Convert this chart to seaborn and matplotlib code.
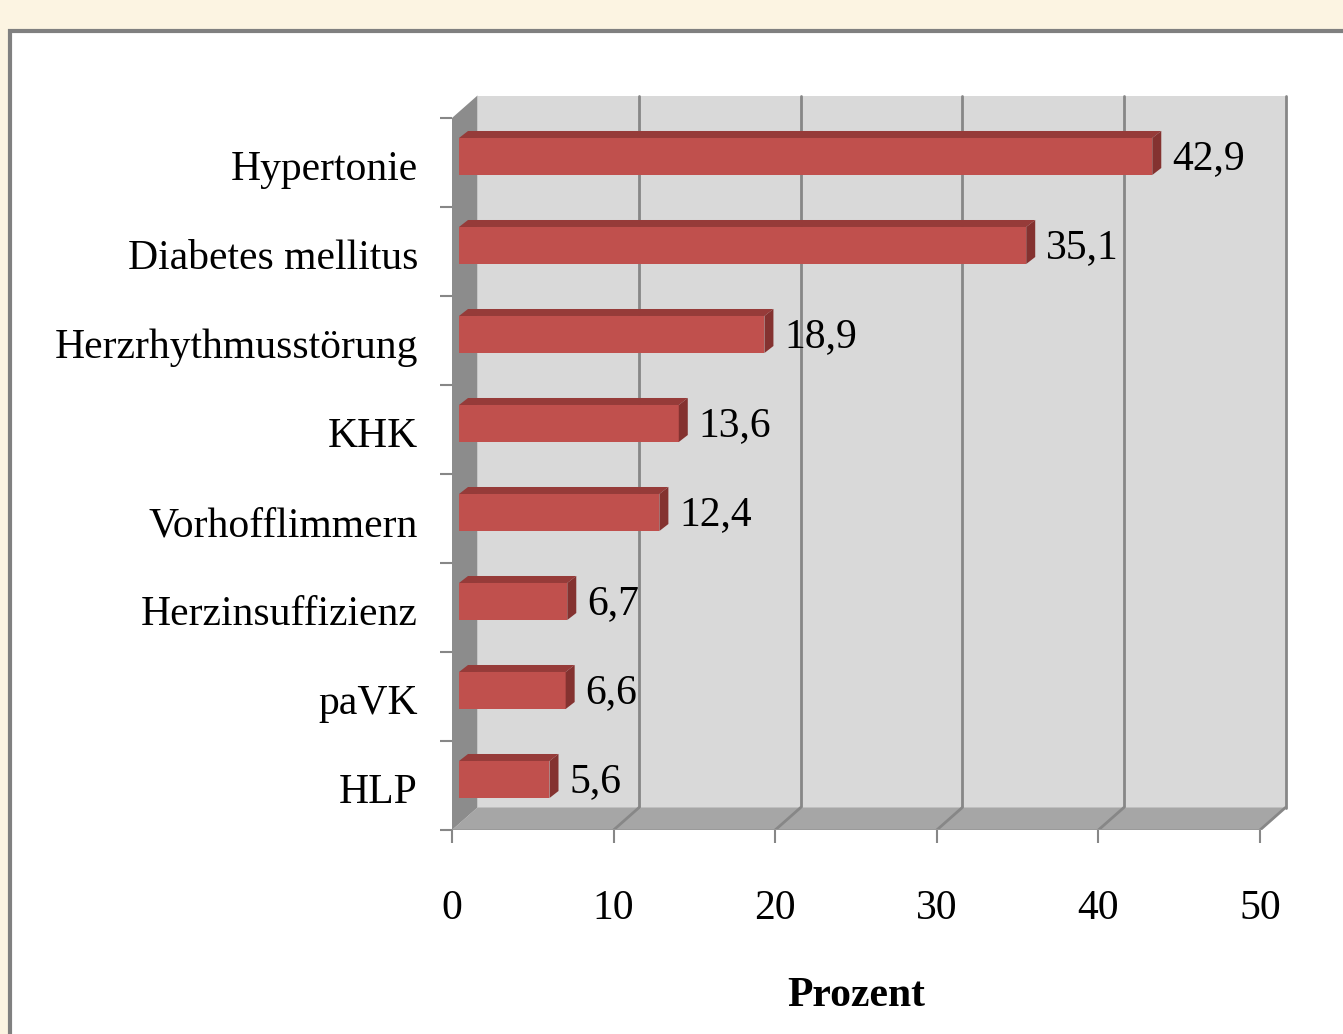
import matplotlib
matplotlib.use("Agg")
import matplotlib.pyplot as plt
import matplotlib.transforms as mtransforms
from matplotlib.patches import Polygon, Rectangle
import pandas as pd
import seaborn as sns

# data
categories = ["Hypertonie", "Diabetes mellitus", "Herzrhythmusstörung", "KHK",
              "Vorhofflimmern", "Herzinsuffizienz", "paVK", "HLP"]
values = [42.9, 35.1, 18.9, 13.6, 12.4, 6.7, 6.6, 5.6]
value_labels = ["42,9", "35,1", "18,9", "13,6", "12,4", "6,7", "6,6", "5,6"]
x_ticks = [0, 10, 20, 30, 40, 50]

df = pd.DataFrame({"Krankheit": categories, "Prozent": values})

sns.set_style("white")
plt.rcParams["font.family"] = ["Liberation Serif", "DejaVu Serif"]
plt.rcParams["text.color"] = "black"
plt.rcParams["axes.labelcolor"] = "black"

W, H = 1343, 1034
fig = plt.figure(figsize=(W / 100, H / 100), dpi=100)
fig.patch.set_facecolor("#fcf4e2")

# white panel with grey frame
fig.add_artist(Rectangle((10 / W, -0.1), 1.2, 1.1 - 31 / H, transform=fig.transFigure,
                         facecolor="white", edgecolor="#808080", lw=3, zorder=-10))

# pixel geometry of the plot box
x_px = 16.16           # pixels per percent
y_px = 89.0            # pixels per category band
x_max = 52.0
y_top = -0.85
ax = fig.add_axes([452 / W, (H - 830) / H, x_max * x_px / W, (7.5 - y_top) * y_px / H])
ax.set_facecolor("none")

DX = 25.5 / x_px       # depth of the walls
DY = 22.5 / y_px
wall_col = "#d9d9d9"
grid_col = "#878787"

# back wall, floor, side wall
ax.add_patch(Rectangle((DX, -0.5 - DY), 50, 8, facecolor=wall_col, edgecolor="none", zorder=0))
for t in x_ticks[1:]:
    ax.plot([t + DX, t + DX], [-0.5 - DY, 7.5 - DY], color=grid_col, lw=2, zorder=1)
ax.add_patch(Polygon([(0, 7.5), (50, 7.5), (50 + DX, 7.5 - DY), (DX, 7.5 - DY)],
                     closed=True, facecolor="#a6a6a6", edgecolor="none", zorder=1))
for t in x_ticks[1:]:
    ax.plot([t, t + DX], [7.5, 7.5 - DY], color=grid_col, lw=2, zorder=1.5)
ax.plot([0, 50], [7.5, 7.5], color="#999999", lw=2, zorder=1.5)
ax.add_patch(Polygon([(0, -0.5), (DX, -0.5 - DY), (DX, 7.5 - DY), (0, 7.5)],
                     closed=True, facecolor="#8c8c8c", edgecolor="none", zorder=1.6))

# bars (front faces) via seaborn
sns.barplot(data=df, x="Prozent", y="Krankheit", orient="h", color="#c0504d",
            saturation=1, width=0.416, ax=ax, zorder=3)

shift = mtransforms.offset_copy(ax.transData, fig=fig, x=7, y=6, units="dots")
bdx = 9 / x_px
bdy = 7 / y_px
bars = list(ax.patches)[-len(values):]
for bar, lab in zip(bars, value_labels):
    x0, y0 = bar.get_x(), bar.get_y()
    w, h = bar.get_width(), bar.get_height()
    bar.set_transform(shift)
    bar.set_edgecolor("none")
    ax.add_patch(Polygon([(x0, y0), (x0 + w, y0), (x0 + w + bdx, y0 - bdy), (x0 + bdx, y0 - bdy)],
                         closed=True, facecolor="#963b39", edgecolor="none",
                         transform=shift, zorder=3))
    ax.add_patch(Polygon([(x0 + w, y0), (x0 + w + bdx, y0 - bdy), (x0 + w + bdx, y0 + h - bdy), (x0 + w, y0 + h)],
                         closed=True, facecolor="#843230", edgecolor="none",
                         transform=shift, zorder=3))
    ax.text(x0 + w + bdx + 11 / x_px, y0 + h / 2 + 2.5 / y_px, lab, transform=shift,
            ha="left", va="center", fontsize=30, color="black", zorder=4)

ax.set_xlim(0, x_max)
ax.set_ylim(7.5, y_top)
for s in ax.spines.values():
    s.set_visible(False)

ax.set_xticks(x_ticks)
ax.set_xticklabels([str(t) for t in x_ticks], fontsize=30)
ax.tick_params(axis="x", length=9.4, width=1.5, color=grid_col, labelcolor="black", pad=33.5, bottom=True)
ax.set_yticks([i - 0.5 for i in range(len(categories) + 1)], minor=True)
ax.tick_params(axis="y", which="minor", length=8.6, width=1.5, color=grid_col, left=True)
ax.tick_params(axis="y", which="major", length=0, pad=24.5, labelsize=30, labelcolor="black")
for lbl in ax.get_yticklabels():
    lbl.set_y(lbl.get_position()[1])
    lbl.set_transform(lbl.get_transform() + mtransforms.ScaledTranslation(0, -2 / 72, fig.dpi_scale_trans))

ax.set_ylabel("")
ax.set_xlabel("Prozent", fontsize=30, fontweight="bold", color="black")
ax.xaxis.label.set_va("center")
ax.xaxis.set_label_coords(25 / x_max, -(996 - 830) / ((7.5 - y_top) * y_px))

fig.savefig("out.png", dpi=100, facecolor=fig.get_facecolor())
